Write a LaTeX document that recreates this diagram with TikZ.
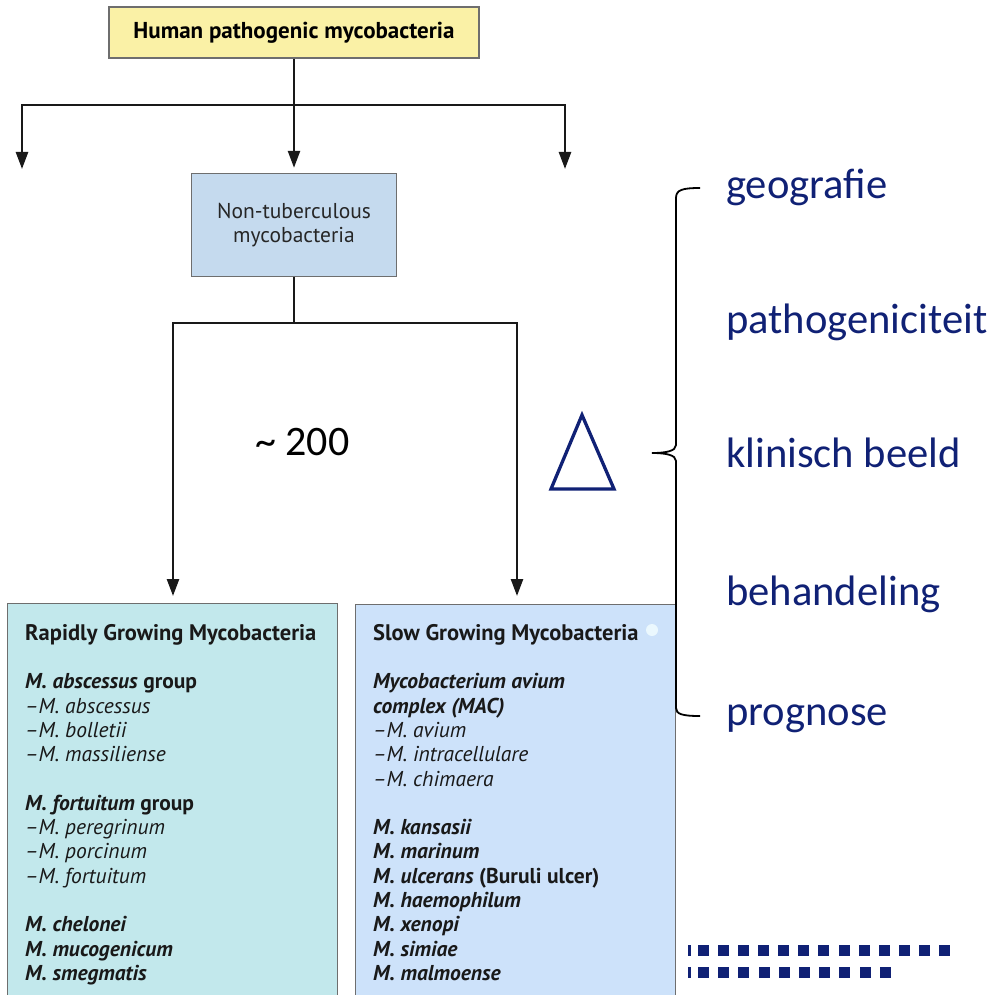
\documentclass[tikz,border=0pt]{standalone}
\usepackage{fontspec}
\setmainfont{Carlito}
\newfontfamily\bxfont{PT Sans}
\usetikzlibrary{arrows.meta}
\definecolor{navy}{RGB}{16,33,117}
\definecolor{yel}{RGB}{250,241,166}
\definecolor{ntmblue}{RGB}{197,218,238}
\definecolor{rgmcol}{RGB}{194,232,236}
\definecolor{sgmcol}{RGB}{205,226,250}
\definecolor{edgegray}{RGB}{110,110,110}
\definecolor{lncol}{RGB}{25,25,25}
\tikzset{
  box/.style={draw=edgegray, line width=1.4pt, inner sep=0pt},
  conn/.style={draw=lncol, line width=2.5pt, line join=miter},
  arr/.style={conn, -{Triangle[length=17pt,width=12pt]}},
  lbl/.style={anchor=base west, text=navy, font=\fontsize{42.6}{50}\selectfont, inner sep=0pt},
  listtext/.style={anchor=north west, inner sep=0pt, align=left, text=black!90,
    font=\bxfont\fontsize{21.5}{24.3}\selectfont},
}
\begin{document}
\begin{tikzpicture}[x=1pt,y=-1pt]
\useasboundingbox (0,0) rectangle (994,995);
\clip (0,0) rectangle (994,995);

% boxes
\node[box, fill=yel, minimum width=370, minimum height=51,
      font=\bxfont\bfseries\fontsize{23}{26}\selectfont] (top) at (294,32.5)
      {Human pathogenic mycobacteria};
\node[box, fill=ntmblue, minimum width=205, minimum height=103, align=center,
      font=\bxfont\fontsize{21.5}{23.5}\selectfont, text=black!85] (ntm) at (294,225)
      {Non-tuberculous\\mycobacteria};
\node[box, fill=rgmcol, anchor=north west, minimum width=330, minimum height=400] (rgm) at (7,603) {};
\node[box, fill=sgmcol, anchor=north west, minimum width=320, minimum height=400] (sgm) at (355,604) {};
\fill[cyan!8!white] (652,630) circle (6);

% connectors
\coordinate (j1) at (294,105);
\coordinate (tipL) at (22,169);
\coordinate (tipR) at (565,169);
\draw[arr] (top.south) -- ([yshift=5pt]ntm.north);
\draw[arr] (j1) -| (tipL);
\draw[arr] (j1) -| (tipR);

\coordinate (j2) at (294,323);
\coordinate (tipA) at (173,596);
\coordinate (tipB) at (517,596);
\draw[arr] (ntm.south) -- (j2) -| (tipA);
\draw[arr] (j2) -| (tipB);

% lists
\node[listtext] (rgmlist) at (25,623) {\rule{0pt}{17pt}{\fontsize{22.5}{24.3}\selectfont\textbf{Rapidly Growing Mycobacteria}}\\[24.3pt]
\textbf{\textit{M. abscessus} group}\\
\textit{–M. abscessus}\\
\textit{–M. bolletii}\\
\textit{–M. massiliense}\\[24.3pt]
\textbf{\textit{M. fortuitum} group}\\
\textit{–M. peregrinum}\\
\textit{–M. porcinum}\\
\textit{–M. fortuitum}\\[24.3pt]
\textbf{\textit{M. chelonei}}\\
\textbf{\textit{M. mucogenicum}}\\
\textbf{\textit{M. smegmatis}}};

\node[listtext] (sgmlist) at (373,623) {\rule{0pt}{17pt}{\fontsize{22.5}{24.3}\selectfont\textbf{Slow Growing Mycobacteria}}\\[24.3pt]
\textbf{\textit{Mycobacterium avium}}\\
\textbf{\textit{complex (MAC)}}\\
\textit{–M. avium}\\
\textit{–M. intracellulare}\\
\textit{–M. chimaera}\\[24.3pt]
\textbf{\textit{M. kansasii}}\\
\textbf{\textit{M. marinum}}\\
\textbf{\textit{M. ulcerans} (Buruli ulcer)}\\
\textbf{\textit{M. haemophilum}}\\
\textbf{\textit{M. xenopi}}\\
\textbf{\textit{M. simiae}}\\
\textbf{\textit{M. malmoense}}};

% ~200
\node[anchor=base west, inner sep=0pt, font=\fontsize{42}{50}\selectfont] (count) at (255,455) {\char"007E{} 200};

% triangle
\draw[navy, line width=3.3pt, line join=miter] (582,415) -- (551,489) -- (614,489) -- cycle;

% brace
\draw[black, line width=1.8pt] (700,188) .. controls (682,188) and (676,190) .. (676,198)
  -- (676,445) .. controls (676,451) and (666,453) .. (652,453)
  .. controls (666,453) and (676,455) .. (676,461)
  -- (676,708) .. controls (676,714) and (682,716) .. (700,716);

% labels
\node[lbl] (geo) at (726,199) {geografie};
\node[lbl] (path) at (726,333) {pathogeniciteit};
\node[lbl] (klin) at (726,467) {klinisch beeld};
\node[lbl] (beh) at (726,605) {behandeling};
\node[lbl] (prog) at (726,725) {prognose};

% footer squares
\fill[navy] (688,945) rectangle (691,956);
\foreach \i in {0,...,12} {\fill[navy] ({698+20.08*\i},945) rectangle ({709+20.08*\i},956);}
\fill[navy] (688,967) rectangle (691,978);
\foreach \i in {0,...,9} {\fill[navy] ({698+20.2*\i},967) rectangle ({709+20.2*\i},978);}
\end{tikzpicture}
\end{document}
